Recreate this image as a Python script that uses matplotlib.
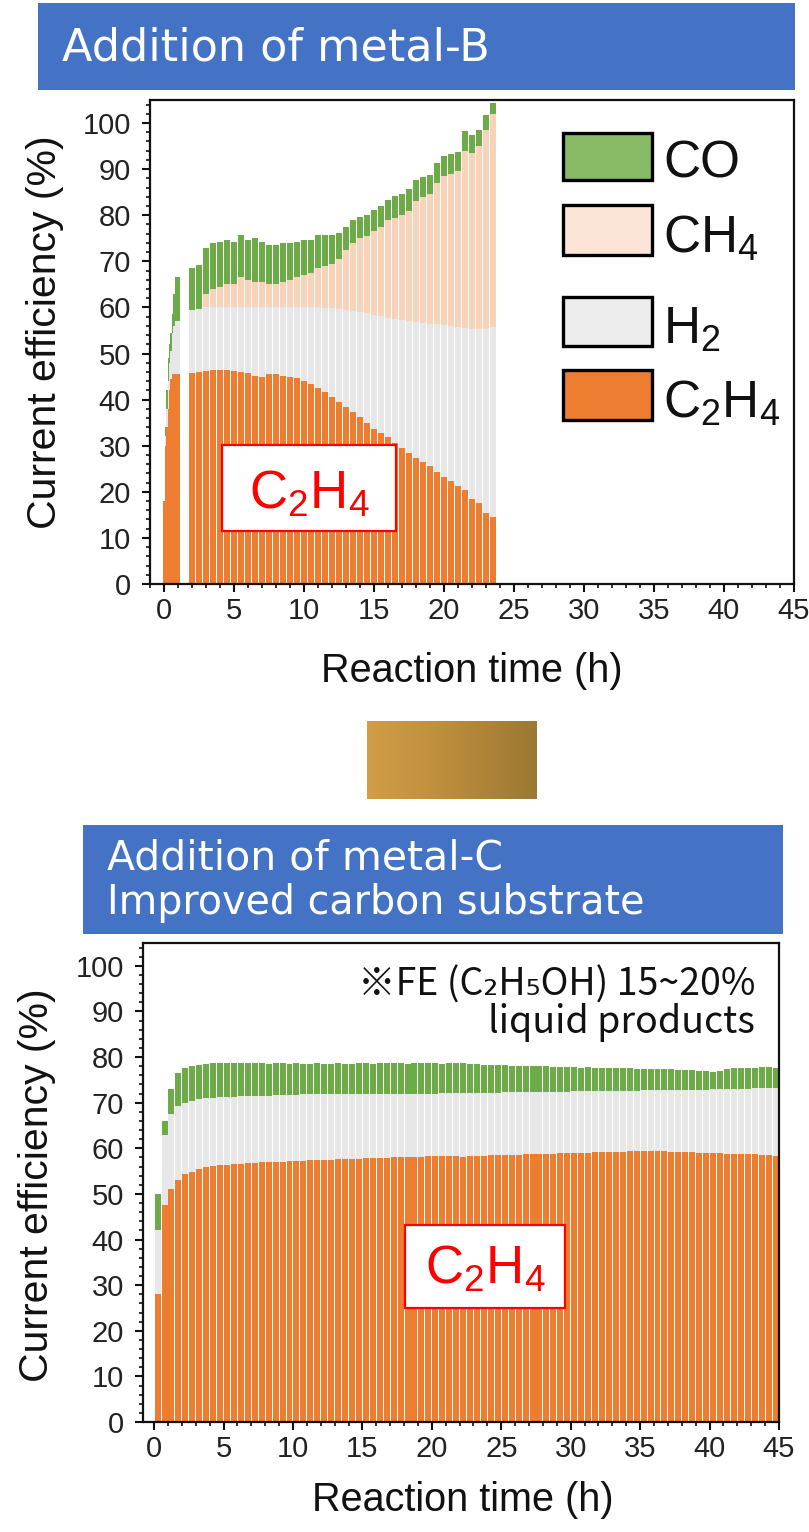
import numpy as np
import matplotlib
matplotlib.use("Agg")
import matplotlib.pyplot as plt
from matplotlib.patches import Rectangle
from matplotlib.ticker import MultipleLocator
from matplotlib.colors import LinearSegmentedColormap

plt.rcParams['font.family'] = ['Liberation Sans', 'DejaVu Sans']
plt.rcParams['mathtext.fontset'] = 'custom'
plt.rcParams['mathtext.rm'] = 'Liberation Sans'
plt.rcParams['mathtext.it'] = 'Liberation Sans:italic'
plt.rcParams['mathtext.bf'] = 'Liberation Sans:bold'
plt.rcParams['mathtext.default'] = 'rm'

W, H = 809, 1532

# ---------------- data: upper panel (metal-B) ----------------
b_early_time = [0.0, 0.1, 0.2, 0.3, 0.4, 0.5, 0.6, 0.7, 0.8, 0.9, 1.0, 1.1]
b_early_c2h4 = [18, 30, 34, 38, 42, 44.5, 45.5, 45.5, 45.5, 45.5, 45.5, 45.5]
b_early_h2 = [0, 2, 4, 6, 6, 6, 9, 10.5, 11.5, 11.5, 11.5, 11.5]
b_early_ch4 = [0, 0, 0, 0, 0, 0, 0, 0, 0, 0, 0, 0]
b_early_co = [0, 2, 4, 5, 4, 4, 4, 7, 9.5, 9.5, 9.5, 9.5]

b_time = [2.0, 2.5, 3.0, 3.5, 4.0, 4.5, 5.0, 5.5, 6.0, 6.5, 7.0, 7.5, 8.0, 8.5,
          9.0, 9.5, 10.0, 10.5, 11.0, 11.5, 12.0, 12.5, 13.0, 13.5, 14.0, 14.5,
          15.0, 15.5, 16.0, 16.5, 17.0, 17.5, 18.0, 18.5, 19.0, 19.5, 20.0, 20.5,
          21.0, 21.5, 22.0, 22.5, 23.0, 23.5]
b_c2h4 = [45.7, 46.0, 46.3, 46.4, 46.5, 46.5, 46.3, 46.0, 45.7, 45.2, 44.9, 45.6,
          45.5, 45.2, 45.0, 44.7, 44.0, 43.3, 42.5, 41.7, 40.6, 39.4, 38.3, 37.3,
          36.2, 35.0, 33.7, 32.8, 31.8, 30.6, 29.6, 28.4, 27.4, 26.5, 25.5, 24.4,
          23.3, 22.4, 21.3, 20.3, 18.4, 17.6, 15.4, 14.6]
b_h2 = [13.8, 13.7, 13.7, 13.6, 13.5, 13.5, 13.7, 14.0, 14.3, 14.8, 15.1, 14.4,
        14.5, 14.8, 15.0, 15.3, 16.0, 16.7, 17.5, 18.2, 19.2, 20.3, 21.2, 22.0,
        22.8, 23.7, 24.7, 25.3, 26.0, 26.9, 27.7, 28.7, 29.5, 30.2, 31.0, 31.9,
        32.8, 33.6, 34.5, 35.3, 37.0, 37.7, 40.0, 41.1]
b_ch4 = [0.0, 0.0, 3.0, 4.0, 4.5, 5.0, 5.0, 6.5, 6.0, 5.5, 5.5, 5.0,
         5.0, 5.5, 6.0, 6.5, 7.0, 7.5, 8.5, 9.1, 9.7, 10.8, 13.0, 14.7,
         16.0, 16.8, 18.1, 19.4, 21.2, 22.0, 22.7, 23.9, 26.1, 27.3, 28.0, 30.7,
         32.4, 33.0, 33.7, 38.4, 38.1, 39.7, 43.1, 46.3]
b_co = [9.0, 9.5, 9.8, 9.9, 9.6, 9.6, 9.3, 9.2, 8.7, 9.5, 8.8, 8.6,
        8.6, 8.4, 7.9, 7.8, 7.6, 7.2, 7.2, 6.7, 6.2, 5.7, 5.0, 5.0,
        4.6, 4.6, 4.7, 4.4, 4.4, 4.6, 4.5, 4.6, 4.7, 4.3, 4.3, 4.3,
        4.3, 4.3, 4.3, 4.2, 4.0, 3.6, 3.3, 2.3]

# ---------------- data: lower panel (metal-C, improved substrate) ----------------
c_time = [0.25, 0.75, 1.25, 1.75, 2.25, 2.75, 3.25, 3.75, 4.25, 4.75,
          5.25, 5.75, 6.25, 6.75, 7.25, 7.75, 8.25, 8.75, 9.25, 9.75,
          10.25, 10.75, 11.25, 11.75, 12.25, 12.75, 13.25, 13.75, 14.25, 14.75,
          15.25, 15.75, 16.25, 16.75, 17.25, 17.75, 18.25, 18.75, 19.25, 19.75,
          20.25, 20.75, 21.25, 21.75, 22.25, 22.75, 23.25, 23.75, 24.25, 24.75,
          25.25, 25.75, 26.25, 26.75, 27.25, 27.75, 28.25, 28.75, 29.25, 29.75,
          30.25, 30.75, 31.25, 31.75, 32.25, 32.75, 33.25, 33.75, 34.25, 34.75,
          35.25, 35.75, 36.25, 36.75, 37.25, 37.75, 38.25, 38.75, 39.25, 39.75,
          40.25, 40.75, 41.25, 41.75, 42.25, 42.75, 43.25, 43.75, 44.25, 44.75]
c_c2h4 = [28.0, 47.5, 51.0, 53.0, 54.3, 54.8, 55.4, 55.8, 56.1, 56.3,
          56.4, 56.5, 56.6, 56.7, 56.8, 56.9, 57.0, 57.0, 57.1, 57.2,
          57.3, 57.3, 57.4, 57.4, 57.5, 57.5, 57.6, 57.6, 57.7, 57.7,
          57.8, 57.8, 57.9, 57.9, 58.0, 58.0, 58.1, 58.1, 58.1, 58.2,
          58.2, 58.2, 58.3, 58.3, 58.0, 58.3, 58.4, 58.4, 58.5, 58.5,
          58.6, 58.6, 58.6, 58.7, 58.7, 58.8, 58.8, 58.8, 58.9, 58.9,
          59.0, 59.0, 59.0, 59.1, 59.1, 59.1, 59.2, 59.2, 59.3, 59.3,
          59.4, 59.4, 59.3, 59.3, 59.2, 59.2, 59.1, 59.1, 59.0, 59.0,
          58.9, 58.9, 58.8, 58.8, 58.8, 58.7, 58.7, 58.6, 58.5, 58.4]
c_h2 = [14.0, 15.5, 16.5, 16.3, 15.7, 15.6, 15.4, 15.2, 15.0, 14.9,
        14.9, 14.8, 14.8, 14.7, 14.7, 14.6, 14.5, 14.6, 14.5, 14.5,
        14.4, 14.5, 14.4, 14.4, 14.3, 14.4, 14.3, 14.3, 14.2, 14.3,
        14.2, 14.2, 14.1, 14.1, 14.0, 14.0, 13.9, 13.9, 13.9, 13.8,
        13.8, 13.9, 13.8, 13.8, 14.1, 13.9, 13.8, 13.8, 13.7, 13.7,
        13.7, 13.7, 13.7, 13.6, 13.6, 13.6, 13.6, 13.6, 13.5, 13.5,
        13.5, 13.5, 13.5, 13.4, 13.4, 13.5, 13.4, 13.4, 13.3, 13.3,
        13.3, 13.3, 13.4, 13.4, 13.5, 13.6, 13.7, 13.7, 13.8, 13.8,
        14.0, 14.0, 14.2, 14.2, 14.3, 14.4, 14.5, 14.6, 14.8, 14.9]
c_co = [8.0, 3.0, 5.5, 7.2, 7.6, 7.6, 7.5, 7.4, 7.5, 7.4,
        7.3, 7.3, 7.3, 7.2, 7.1, 7.1, 7.0, 7.0, 7.0, 6.8,
        6.9, 6.7, 6.7, 6.8, 6.7, 6.6, 6.7, 6.6, 6.6, 6.6,
        6.6, 6.5, 6.6, 6.6, 6.6, 6.6, 6.5, 6.6, 6.6, 6.6,
        6.6, 6.4, 6.6, 6.7, 6.5, 6.3, 6.2, 6.1, 6.1, 6.0,
        5.9, 5.8, 5.8, 5.7, 5.8, 5.6, 5.6, 5.5, 5.5, 5.4,
        5.3, 5.2, 5.3, 5.1, 5.2, 4.9, 5.0, 4.9, 4.9, 4.8,
        4.7, 4.6, 4.7, 4.6, 4.6, 4.4, 4.4, 4.3, 4.2, 4.1,
        3.9, 4.0, 4.3, 4.5, 4.5, 4.6, 4.5, 4.6, 4.5, 4.4]

legend_labels = ['CO', 'CH$_4$', 'H$_2$', 'C$_2$H$_4$']
x_ticks = [0, 5, 10, 15, 20, 25, 30, 35, 40, 45]
y_ticks = [0, 10, 20, 30, 40, 50, 60, 70, 80, 90, 100]

# ---------------- styles ----------------
COL_C2H4 = '#ED7D31'
COL_H2 = '#E7E7E7'
COL_CH4 = '#F8D3BA'
COL_CO = '#6DAA48'
LEG_COLS = ['#89BB67', '#FCE4D6', '#EDEDED', '#ED7D31']
BLUE = '#4472C4'


def fx(x):
    return x / W


def fy(y):
    return 1 - y / H


fig = plt.figure(figsize=(W / 100, H / 100), dpi=100)
fig.patch.set_facecolor('white')


def style_axes(ax, xlim):
    ax.set_xlim(*xlim)
    ax.set_ylim(0, 105)
    ax.set_xticks(x_ticks)
    ax.set_yticks(y_ticks)
    ax.xaxis.set_minor_locator(MultipleLocator(1))
    ax.yaxis.set_minor_locator(MultipleLocator(2))
    ax.tick_params(which='major', direction='out', length=5.8, width=1.5,
                   colors='#111111', labelsize=21, labelcolor='#222222')
    ax.tick_params(which='minor', direction='out', length=3.0, width=1.2,
                   colors='#111111')
    ax.tick_params(axis='y', which='major', pad=8.0)
    ax.tick_params(axis='x', which='major', pad=3.5)
    for sp in ax.spines.values():
        sp.set_linewidth(1.6)
        sp.set_color('#111111')


def stacked(ax, t, layers, colors, width):
    base = np.zeros(len(t))
    for vals, col in zip(layers, colors):
        v = np.asarray(vals, dtype=float)
        ax.bar(t, v, width=width, bottom=base, color=col, linewidth=0,
               align='center')
        base = base + v


# ---------------- upper panel ----------------
ax1 = fig.add_axes([fx(150), fy(584), (794 - 150) / W, (584 - 100) / H])
stacked(ax1, b_early_time, [b_early_c2h4, b_early_h2, b_early_ch4, b_early_co],
        [COL_C2H4, COL_H2, COL_CH4, COL_CO], 0.1)
stacked(ax1, b_time, [b_c2h4, b_h2, b_ch4, b_co],
        [COL_C2H4, COL_H2, COL_CH4, COL_CO], 0.4)
style_axes(ax1, (-1, 45))

# legend (manual, black-framed swatches)
leg_y = [(133, 180), (205, 255), (297, 346), (370, 420)]
for (y0, y1), col, lab in zip(leg_y, LEG_COLS, legend_labels):
    fig.add_artist(Rectangle((fx(563), fy(y1)), (652 - 563) / W, (y1 - y0) / H,
                             transform=fig.transFigure, facecolor=col,
                             edgecolor='black', linewidth=2.4))
    fig.text(fx(663), fy(y1 - 2), lab, fontsize=37, color='#111111',
             ha='left', va='baseline')

# C2H4 label box upper
fig.add_artist(Rectangle((fx(222), fy(531)), (396 - 222) / W, (531 - 445) / H,
                         transform=fig.transFigure, facecolor='white',
                         edgecolor='#FF0000', linewidth=1.6))
fig.text(fx(309), fy(509), 'C$_2$H$_4$', fontsize=38, color='#FF0000',
         ha='center', va='baseline')

fig.text(fx(45), fy(332), 'Current efficiency (%)', fontsize=29.5,
         rotation=90, ha='center', va='center', color='#111111')
fig.text(fx(472), fy(671), 'Reaction time (h)', fontsize=28.5,
         ha='center', va='center', color='#111111')

# title box upper
fig.add_artist(Rectangle((fx(38), fy(90)), (795 - 38) / W, (90 - 3) / H,
                         transform=fig.transFigure, facecolor=BLUE,
                         edgecolor='none'))
fig.text(fx(62), fy(48), 'Addition of metal-B', fontsize=32, color='white',
         ha='left', va='center', family='DejaVu Sans')

# ---------------- transition block (gradient) ----------------
gax = fig.add_axes([fx(367), fy(799), (537 - 367) / W, (799 - 721) / H])
gcmap = LinearSegmentedColormap.from_list('gold', ['#D29E47', '#BA8C3B', '#9B7834'])
gax.imshow(np.linspace(0, 1, 256).reshape(1, -1), cmap=gcmap, aspect='auto',
           extent=[0, 1, 0, 1])
gax.set_axis_off()

# ---------------- title box lower ----------------
fig.add_artist(Rectangle((fx(83), fy(934)), (783 - 83) / W, (934 - 825) / H,
                         transform=fig.transFigure, facecolor=BLUE,
                         edgecolor='none'))
fig.text(fx(107), fy(858), 'Addition of metal-C', fontsize=29.5, color='white',
         ha='left', va='center', family='DejaVu Sans')
fig.text(fx(107), fy(903), 'Improved carbon substrate', fontsize=28.5,
         color='white', ha='left', va='center', family='DejaVu Sans')

# ---------------- lower panel ----------------
ax2 = fig.add_axes([fx(143), fy(1422), (779 - 143) / W, (1422 - 943) / H])
stacked(ax2, c_time, [c_c2h4, c_h2, c_co], [COL_C2H4, COL_H2, COL_CO], 0.43)
style_axes(ax2, (-0.8, 45))

fig.add_artist(Rectangle((fx(405), fy(1308)), (565 - 405) / W, (1308 - 1225) / H,
                         transform=fig.transFigure, facecolor='white',
                         edgecolor='#FF0000', linewidth=1.6))
fig.text(fx(485), fy(1284), 'C$_2$H$_4$', fontsize=38, color='#FF0000',
         ha='center', va='baseline')

fig.text(fx(755), fy(985), '※FE (C₂H₅OH) 15~20%', fontsize=27,
         ha='right', va='center', color='#111111',
         family=['Noto Sans CJK JP', 'DejaVu Sans'])
fig.text(fx(755), fy(1022), 'liquid products', fontsize=27,
         ha='right', va='center', color='#111111',
         family=['Noto Sans CJK JP', 'DejaVu Sans'])

fig.text(fx(37), fy(1185), 'Current efficiency (%)', fontsize=29.5,
         rotation=90, ha='center', va='center', color='#111111')
fig.text(fx(463), fy(1500), 'Reaction time (h)', fontsize=28.5,
         ha='center', va='center', color='#111111')

fig.savefig('out.png', dpi=100, facecolor='white')
